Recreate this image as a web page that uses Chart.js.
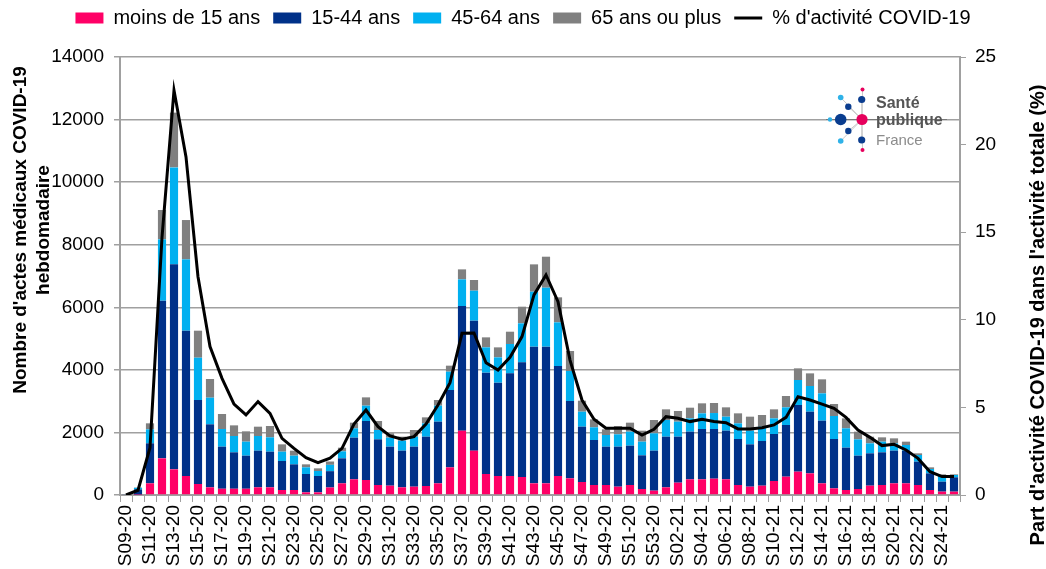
<!DOCTYPE html>
<html><head><meta charset="utf-8">
<script src="https://cdn.jsdelivr.net/npm/chart.js@4.4.0/dist/chart.umd.min.js"></script>
<style>html,body{margin:0;padding:0;background:#fff;}#wrap{width:1046px;height:569px;}</style>
</head><body><div id="wrap"><canvas id="c" width="1046" height="569"></canvas></div>
<script>
const weeks = ["S09-20","S10-20","S11-20","S12-20","S13-20","S14-20","S15-20","S16-20","S17-20","S18-20",
"S19-20","S20-20","S21-20","S22-20","S23-20","S24-20","S25-20","S26-20","S27-20","S28-20",
"S29-20","S30-20","S31-20","S32-20","S33-20","S34-20","S35-20","S36-20","S37-20","S38-20",
"S39-20","S40-20","S41-20","S42-20","S43-20","S44-20","S45-20","S46-20","S47-20","S48-20",
"S49-20","S50-20","S51-20","S52-20","S53-20","S01-21","S02-21","S03-21","S04-21","S05-21",
"S06-21","S07-21","S08-21","S09-21","S10-21","S11-21","S12-21","S13-21","S14-21","S15-21",
"S16-21","S17-21","S18-21","S19-21","S20-21","S21-21","S22-21","S23-21","S24-21","S25-21"];

const under15 = [0,10,373,1172,820,607,352,245,200,200,
200,245,245,160,160,85,85,240,373,501,
479,320,298,245,266,288,373,884,2056,1417,
671,607,607,575,373,373,607,533,415,320,
320,266,320,192,138,245,394,501,501,522,
501,320,266,298,447,586,746,692,373,213,
160,192,298,320,373,373,320,160,107,107];

const age15_44 = [20,170,1279,5039,6552,4645,2684,2014,1345,1164,
1057,1172,1140,927,820,586,522,522,799,1332,
1886,1459,1247,1172,1279,1576,1971,2472,3985,4155,
3239,2983,3282,3665,4368,4368,3516,2471,1769,1438,
1225,1279,1257,1076,1279,1619,1470,1523,1608,1587,
1555,1470,1353,1428,1503,1651,2130,1971,2003,1577,
1353,1065,1034,1044,1044,1044,745,532,319,458];

const age45_64 = [0,50,447,1960,3100,2280,1353,852,564,522,
448,469,458,298,277,213,160,202,224,298,
491,298,288,319,319,426,511,586,851,958,
809,809,937,1247,1757,1885,1395,959,479,405,
373,394,447,437,554,533,480,426,501,511,
448,500,437,458,500,565,799,821,873,735,
618,522,319,341,234,181,213,139,192,74];

const age65plus = [0,10,192,938,1750,1257,863,596,480,340,
330,298,362,234,160,96,85,107,117,181,
265,288,138,128,213,192,181,192,320,342,
320,320,394,532,874,991,800,639,352,255,
181,266,288,351,426,341,341,341,320,320,
298,320,448,373,288,362,373,404,448,383,
319,245,213,138,160,107,54,53,42,21];

const pctActivity = [0.0,0.27,2.7,14.7,23.1,19.3,12.46,8.47,6.66,5.19,
4.57,5.33,4.66,3.23,2.66,2.13,1.85,2.1,2.66,4.05,
4.85,3.9,3.37,3.18,3.33,4.05,5.14,6.41,9.23,9.25,
7.55,7.13,7.86,9.04,11.42,12.56,11.03,7.7,5.42,4.32,
3.81,3.81,3.81,3.42,3.75,4.47,4.38,4.19,4.32,4.19,
4.13,3.77,3.77,3.84,4.0,4.43,5.61,5.42,5.19,4.95,
4.43,3.71,3.29,2.82,2.89,2.57,2.09,1.33,1.05,1.05];

const seriesNames = ["moins de 15 ans","15-44 ans","45-64 ans","65 ans ou plus","% d'activité COVID-19"];
const leftTitle = ["Nombre d'actes médicaux COVID-19","hebdomadaire"];
const rightTitle = "Part d'activité COVID-19 dans l'activité totale (%)";

const FONT = "'Liberation Sans', Arial, sans-serif";
Chart.defaults.font.family = FONT;
Chart.defaults.color = '#000';
const GRID = '#a0a0a0';

const legendFix = {
  id: 'legendFix',
  beforeLayout(chart) {
    const lg = chart.legend;
    if (lg && !lg.__p) {
      const orig = lg.fit.bind(lg);
      lg.fit = function () { orig(); this.height = 62; };
      lg.__p = true;
    }
  }
};

const decor = {
  id: 'decor',
  afterDraw(chart) {
    const ctx = chart.ctx;
    ctx.save();
    ctx.fillStyle = '#000';
    ctx.textAlign = 'center';
    ctx.textBaseline = 'middle';
    ctx.save();
    ctx.font = 'bold 19px ' + FONT;
    ctx.translate(21, 230);
    ctx.rotate(-Math.PI / 2);
    ctx.fillText(leftTitle[0], 0, 0);
    ctx.fillText(leftTitle[1], 0, 23);
    ctx.restore();
    ctx.save();
    ctx.font = 'bold 20px ' + FONT;
    ctx.translate(1038, 315);
    ctx.rotate(-Math.PI / 2);
    ctx.fillText(rightTitle, 0, 0);
    ctx.restore();

    // logo
    const cx = 862, cy = 119.5;
    ctx.strokeStyle = '#c8c8c8';
    ctx.lineWidth = 1;
    const dots = [
      [862.5, 89.5, 2, '#e6005c'], [861.7, 99.5, 3.6, '#0a3d8f'], [840.7, 97.5, 2.8, '#2fb2e8'],
      [848.3, 106.7, 3.2, '#0a3d8f'], [840.7, 119.5, 5.8, '#0a3d8f'], [830, 119.5, 2.2, '#2fb2e8'],
      [848.3, 131, 3.2, '#0a3d8f'], [840.7, 141, 2.8, '#2fb2e8'], [861.7, 140, 3.6, '#0a3d8f'],
      [862.5, 150, 2, '#e6005c']
    ];
    dots.forEach(d => { ctx.beginPath(); ctx.moveTo(cx, cy); ctx.lineTo(d[0], d[1]); ctx.stroke(); });
    ctx.strokeStyle = '#777';
    ctx.beginPath(); ctx.moveTo(826, cy); ctx.lineTo(947, cy); ctx.stroke();
    dots.forEach(d => { ctx.fillStyle = d[3]; ctx.beginPath(); ctx.arc(d[0], d[1], d[2], 0, Math.PI * 2); ctx.fill(); });
    ctx.fillStyle = '#e6005c';
    ctx.beginPath(); ctx.arc(cx, cy, 5.6, 0, Math.PI * 2); ctx.fill();
    ctx.textAlign = 'left';
    ctx.textBaseline = 'alphabetic';
    ctx.fillStyle = '#555';
    ctx.font = 'bold 16px ' + FONT;
    ctx.fillText('Santé', 876, 108);
    ctx.fillText('publique', 876, 125);
    ctx.fillStyle = '#8c8c8c';
    ctx.font = '15px ' + FONT;
    ctx.fillText('France', 876, 145);
    ctx.restore();
  }
};

const barCommon = { type: 'bar', stack: 's', yAxisID: 'y', borderWidth: 0, pointStyle: 'rect',
  barPercentage: 0.68, categoryPercentage: 1.0, order: 1 };

new Chart(document.getElementById('c'), {
  data: {
    labels: weeks,
    datasets: [
      Object.assign({ label: seriesNames[0], data: under15, backgroundColor: '#ff0066' }, barCommon),
      Object.assign({ label: seriesNames[1], data: age15_44, backgroundColor: '#003189' }, barCommon),
      Object.assign({ label: seriesNames[2], data: age45_64, backgroundColor: '#00b0f0' }, barCommon),
      Object.assign({ label: seriesNames[3], data: age65plus, backgroundColor: '#808080' }, barCommon),
      { type: 'line', label: seriesNames[4], data: pctActivity, yAxisID: 'y1', borderColor: '#000',
        backgroundColor: '#000', borderWidth: 3, pointRadius: 0, pointStyle: 'line', tension: 0, order: 0 }
    ]
  },
  options: {
    responsive: false,
    animation: false,
    devicePixelRatio: 1,
    layout: { padding: { top: -5, left: 0, right: 0, bottom: 0 } },
    plugins: {
      legend: {
        position: 'top',
        labels: {
          font: { size: 20 }, color: '#000', usePointStyle: true, pointStyleWidth: 28, boxHeight: 11,
          padding: 13, sort: (a, b) => a.datasetIndex - b.datasetIndex
        }
      },
      tooltip: { enabled: false }
    },
    scales: {
      x: {
        stacked: true,
        grid: { drawOnChartArea: false, drawTicks: true, tickLength: 7, color: GRID, offset: true },
        border: { color: GRID, width: 2 },
        ticks: {
          autoSkip: false, minRotation: 90, maxRotation: 90, padding: 3, font: { size: 19 }, color: '#000',
          callback: function (v, i) { return i % 2 === 0 ? this.getLabelForValue(v) : ''; }
        },
        afterFit: s => { s.height = 74; }
      },
      y: {
        position: 'left', stacked: true, min: 0, max: 14000,
        ticks: { stepSize: 2000, padding: 10, font: { size: 19 }, color: '#000', callback: v => String(v) },
        grid: { color: GRID, lineWidth: 1.5, tickLength: 6 },
        border: { color: GRID, width: 2 },
        afterFit: s => { s.width = 120; }
      },
      y1: {
        position: 'right', min: 0, max: 25,
        ticks: { stepSize: 5, padding: 9, font: { size: 19 }, color: '#000', callback: v => String(v) },
        grid: { drawOnChartArea: false, color: GRID, tickLength: 6 },
        border: { color: GRID, width: 2 },
        afterFit: s => { s.width = 86; }
      }
    }
  },
  plugins: [legendFix, decor]
});
</script>
</body></html>
